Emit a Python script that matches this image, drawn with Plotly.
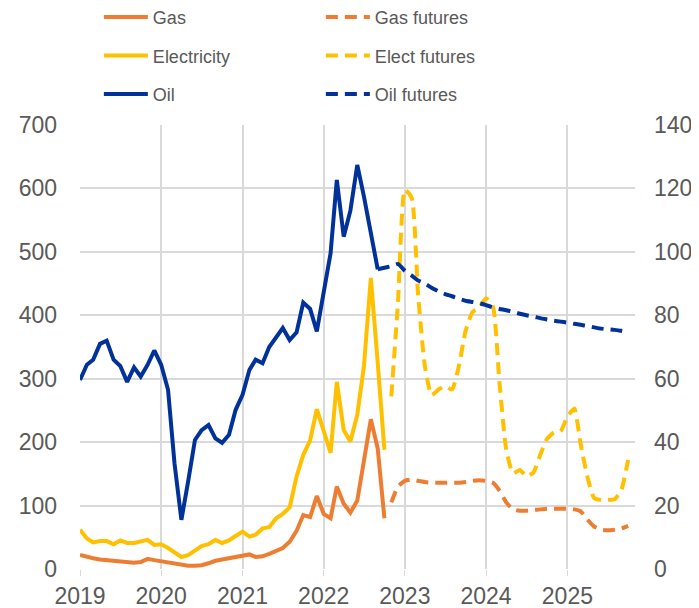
import pandas as pd
import plotly.graph_objects as go

# Colours
ORANGE = "#ED7D31"
YELLOW = "#FFC000"
BLUE = "#003299"
GRID = "#D9D9D9"
TEXT = "#595959"

# Monthly history, Jan 2019 - Oct 2022
hist_dates = pd.date_range("2019-01-01", periods=46, freq="MS")
gas = [22, 19, 17, 15, 14, 12, 11, 10.5, 10, 11, 16, 14, 12, 10, 8, 6, 5, 5, 6, 9, 13, 15, 17, 19,
       22, 23, 19, 20, 24, 28, 33, 43, 60, 85, 82, 115, 87, 80, 130, 103, 89, 108, 170, 236, 190, 80]
electricity = [62, 48, 42, 44, 44, 39, 45, 41, 41, 43, 46, 38, 39, 33, 27, 19, 22, 30, 36, 39, 46, 41, 45, 52,
               59, 51, 54, 64, 66, 80, 87, 97, 146, 180, 203, 252, 216, 183, 295, 219, 201, 243, 320, 459, 325, 188]
# oil ends one month earlier (Sep 2022)
oil = [59.6, 64.4, 66, 71, 72, 66, 64, 59, 63.6, 60.7, 64.4, 68.9, 64.4, 56.5, 33.3, 15.5, 27.5, 40.7,
       43.8, 45.4, 41.2, 39.8, 42.3, 50.2, 54.9, 62.8, 66, 64.9, 70, 73, 76, 72.2, 74.6, 84, 82, 74.9,
       87, 99.6, 122.7, 104.8, 113, 127.4, 117.4, 106, 94.5]

# Futures curves
fut_dates = pd.date_range("2022-11-01", periods=36, freq="MS")
oil_fut_dates = pd.date_range("2022-09-01", periods=38, freq="MS")
gas_futures = [105, 130, 139, 141, 139, 137, 136, 136, 136, 136, 136, 137, 139, 140, 139, 136, 124, 105,
               94, 92, 92, 93, 94, 95, 95, 95, 95, 94, 91, 78, 67, 62, 61, 62, 64, 68]
elect_futures = [272, 420, 598, 585, 435, 320, 274, 283, 288, 283, 320, 375, 405, 412, 427, 414, 296, 188,
                 151, 156, 146, 152, 180, 205, 215, 217, 240, 253, 198, 145, 112, 109, 109, 110, 125, 172]
oil_futures = [94.5, 95, 95.5, 96.2, 94, 92.5, 91, 90, 88.7, 87.6, 86.7, 86, 85.2, 84.6, 84.2, 83.8, 83.2,
               82.5, 82, 81.6, 81.1, 80.5, 80, 79.6, 79.1, 78.7, 78.3, 78, 77.7, 77.3, 77, 76.6, 76.2,
               75.8, 75.6, 75.4, 75.1, 74.8]

fig = go.Figure()

dash = "12px,7px"
fig.add_trace(go.Scatter(x=hist_dates, y=gas, name="Gas", mode="lines",
                         line=dict(color=ORANGE, width=4),
                         legend="legend", legendgroup="a"))
fig.add_trace(go.Scatter(x=fut_dates, y=gas_futures, name="Gas futures", mode="lines",
                         line=dict(color=ORANGE, width=4, dash=dash, shape="spline", smoothing=0.5),
                         legend="legend2", legendgroup="d"))
fig.add_trace(go.Scatter(x=hist_dates, y=electricity, name="Electricity", mode="lines",
                         line=dict(color=YELLOW, width=4),
                         legend="legend", legendgroup="b"))
fig.add_trace(go.Scatter(x=fut_dates, y=elect_futures, name="Elect futures", mode="lines",
                         line=dict(color=YELLOW, width=4, dash=dash, shape="spline", smoothing=0.5),
                         legend="legend2", legendgroup="e"))
fig.add_trace(go.Scatter(x=hist_dates[:len(oil)], y=oil, name="Oil", mode="lines",
                         line=dict(color=BLUE, width=4), yaxis="y2",
                         legend="legend", legendgroup="c"))
fig.add_trace(go.Scatter(x=oil_fut_dates, y=oil_futures, name="Oil futures", mode="lines",
                         line=dict(color=BLUE, width=4, dash=dash, shape="spline", smoothing=0.5),
                         yaxis="y2", legend="legend2", legendgroup="f"))

# page body adds an 8px offset, so the figure is drawn 8px smaller
leg = dict(xanchor="left", yanchor="top", y=1.284,
           font=dict(size=18, color=TEXT, family="Arial"),
           tracegroupgap=12, bgcolor="rgba(0,0,0,0)", itemwidth=44)

tick_font = dict(size=23, color=TEXT, family="Arial")

fig.update_layout(
    width=691, height=600,
    margin=dict(l=72, r=64, t=117, b=39, autoexpand=False),
    plot_bgcolor="white", paper_bgcolor="white",
    font=dict(family="Arial", color=TEXT),
    legend=dict(x=0.034, **leg),
    legend2=dict(x=0.434, **leg),
    xaxis=dict(
        type="date", range=["2019-01-01", "2025-11-01"],
        dtick="M12", tick0="2019-01-01", tickformat="%Y", tickangle=0,
        showgrid=True, gridcolor=GRID, gridwidth=1.5,
        ticks="outside", ticklen=6, tickcolor=GRID,
        tickfont=tick_font, ticklabelstandoff=0, zeroline=False,
    ),
    yaxis=dict(
        range=[0, 700], dtick=100, showgrid=True, gridcolor=GRID, gridwidth=1.5,
        zeroline=False, tickfont=tick_font, ticklabelstandoff=22,
    ),
    yaxis2=dict(
        range=[0, 140], dtick=20, overlaying="y", side="right", showgrid=False,
        zeroline=False, tickfont=tick_font, ticklabelstandoff=18,
    ),
)

fig.write_html("out.html")
